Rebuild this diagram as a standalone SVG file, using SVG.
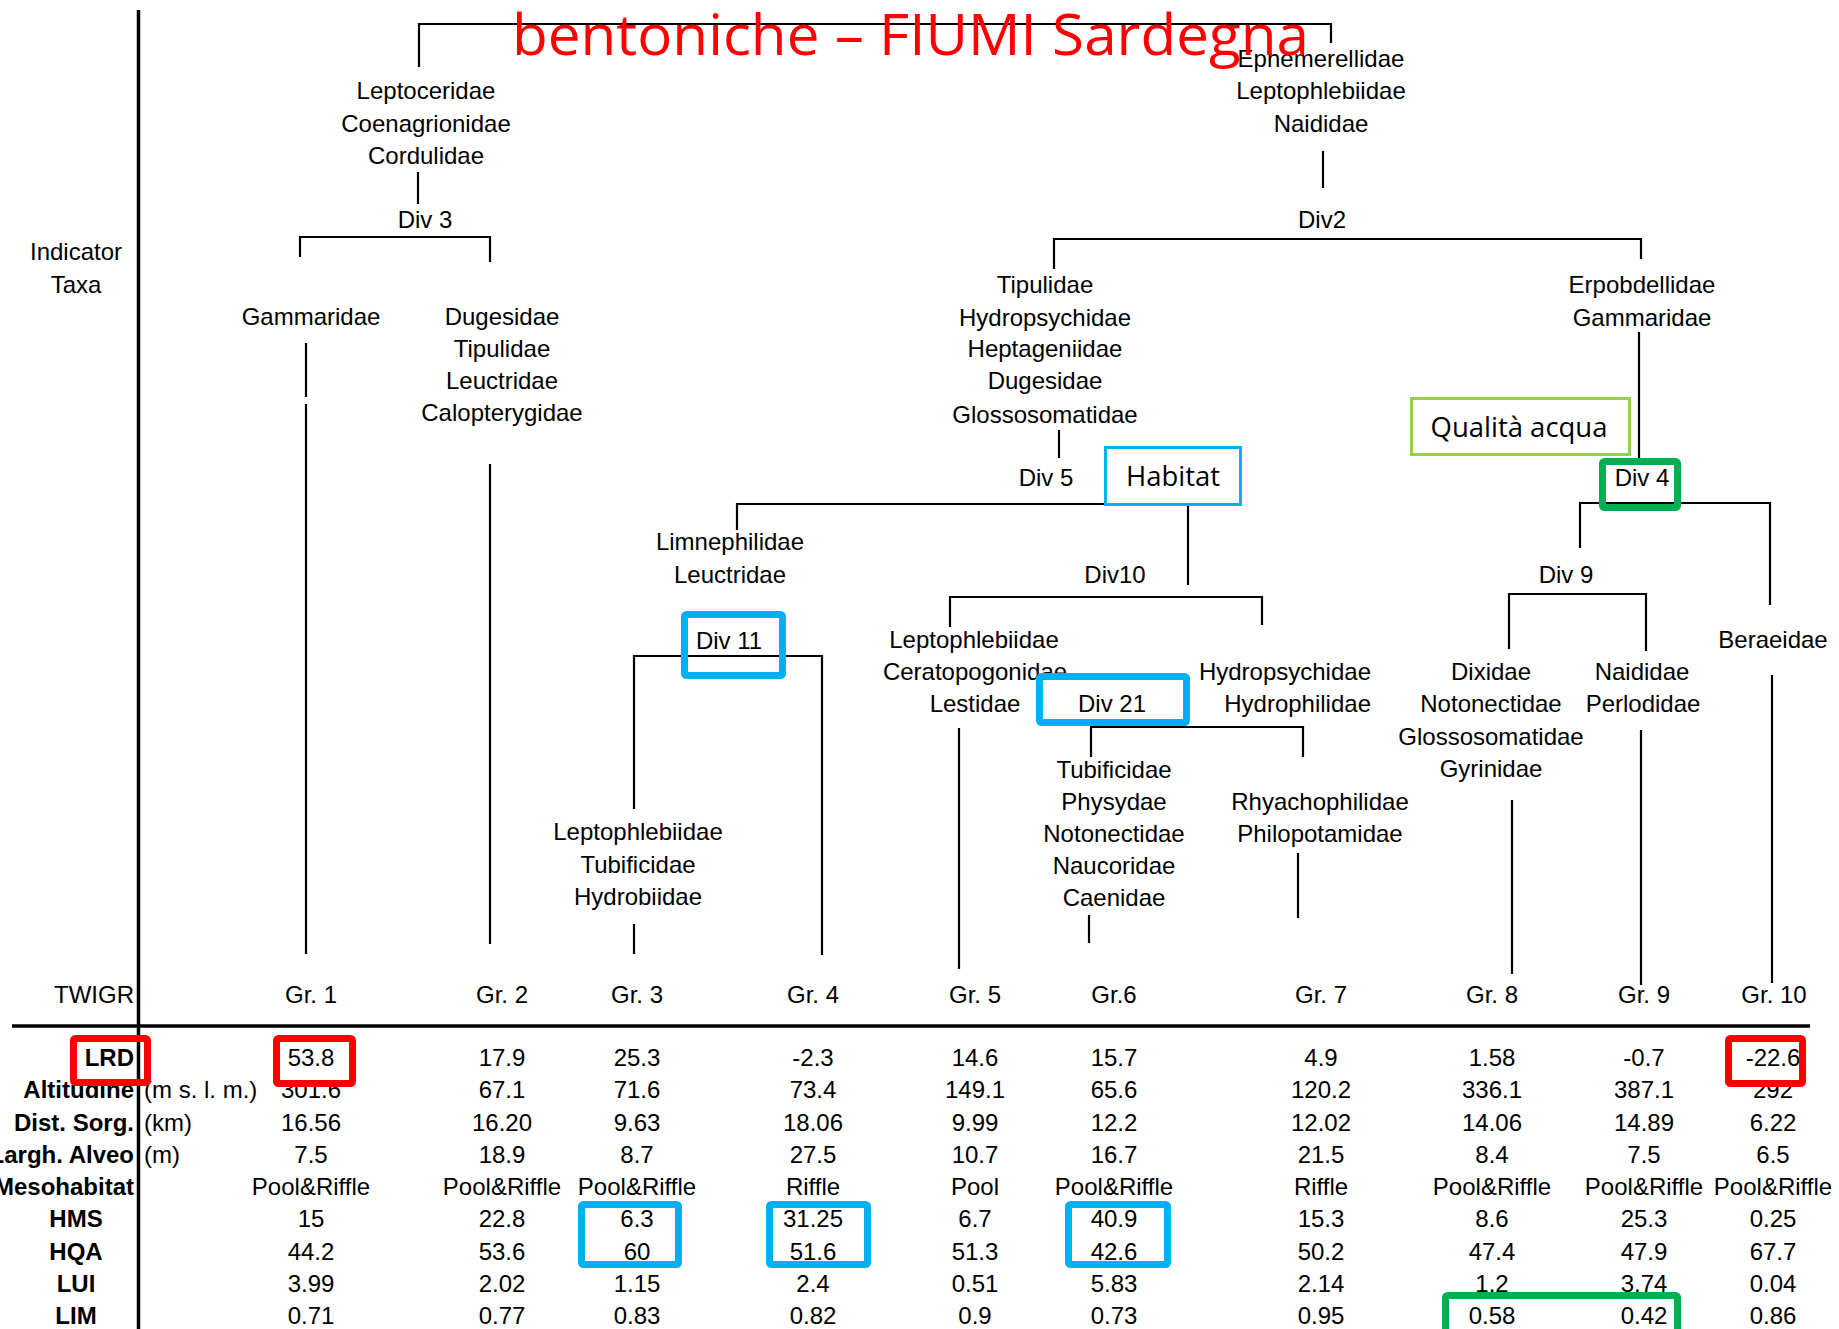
<svg xmlns="http://www.w3.org/2000/svg" width="1839" height="1329" viewBox="0 0 1839 1329">
<style>
text{font-family:"Liberation Sans",Arial,sans-serif;font-size:24px;fill:#000}
.c{text-anchor:middle}
.e{text-anchor:end}
.b{font-weight:bold}
.ln{fill:none;stroke:#000;stroke-width:2.2}
.ax{fill:none;stroke:#000;stroke-width:3.5}
text.cal{font-family:"Open Sans","Noto Sans",sans-serif;font-size:27px}
text.title{font-family:"Open Sans","Noto Sans",sans-serif;font-size:57px;fill:#FF0000}
.blue{fill:none;stroke:#00B0F0;stroke-width:7}
.blueThin{fill:none;stroke:#00B0F0;stroke-width:3}
.red{fill:none;stroke:#FF0000;stroke-width:7}
.green{fill:none;stroke:#00B050;stroke-width:7}
.lgreen{fill:none;stroke:#92D050;stroke-width:3}
</style>
<rect width="1839" height="1329" fill="#fff"/>

<g id="connectors">
<path class="ax" d="M138.5,10 V1329"/>
<path class="ax" d="M12,1026 H1810"/>
<path class="ln" d="M419,67 V24 H1331 V43"/>
<path class="ln" d="M418,172 V204"/>
<path class="ln" d="M300,257 V237 H490 V262"/>
<path class="ln" d="M306,343 V397 M306,404 V954"/>
<path class="ln" d="M490,464 V944"/>
<path class="ln" d="M1323,151 V188"/>
<path class="ln" d="M1054,269 V239 H1641 V259"/>
<path class="ln" d="M1059,430 V458"/>
<path class="ln" d="M737,530 V504 H1105"/>
<path class="ln" d="M1188,506 V585"/>
<path class="ln" d="M634,809 V656 H822 V955"/>
<path class="ln" d="M634,924 V954"/>
<path class="ln" d="M950,627 V597 H1262 V625"/>
<path class="ln" d="M959,728 V969"/>
<path class="ln" d="M1091,757 V727 H1303 V757"/>
<path class="ln" d="M1089,915 V943"/>
<path class="ln" d="M1298,853 V918"/>
<path class="ln" d="M1639,332 V458"/>
<path class="ln" d="M1580,548 V503 H1770 V605"/>
<path class="ln" d="M1509,649 V594 H1646 V651"/>
<path class="ln" d="M1512,800 V974"/>
<path class="ln" d="M1641,730 V985"/>
<path class="ln" d="M1772,675 V983"/>
</g>

<g id="axis-labels">
<text class="c" x="76" y="260">Indicator</text>
<text class="c" x="76" y="293">Taxa</text>
<text class="e" x="134" y="1003">TWIGR</text>
</g>

<g id="node-div1">
<text class="c" x="426" y="99">Leptoceridae</text>
<text class="c" x="426" y="132">Coenagrionidae</text>
<text class="c" x="426" y="164">Cordulidae</text>
</g>
<g id="node-div1r">
<text class="c" x="1321" y="67">Ephemerellidae</text>
<text class="c" x="1321" y="99">Leptophlebiidae</text>
<text class="c" x="1321" y="132">Naididae</text>
</g>
<g id="node-div3"><text class="c" x="425" y="228">Div 3</text></g>
<g id="node-div2"><text class="c" x="1322" y="228">Div2</text></g>
<g id="node-gam"><text class="c" x="311" y="325">Gammaridae</text></g>
<g id="node-dug">
<text class="c" x="502" y="325">Dugesidae</text>
<text class="c" x="502" y="357">Tipulidae</text>
<text class="c" x="502" y="389">Leuctridae</text>
<text class="c" x="502" y="421">Calopterygidae</text>
</g>
<g id="node-tip">
<text class="c" x="1045" y="293">Tipulidae</text>
<text class="c" x="1045" y="326">Hydropsychidae</text>
<text class="c" x="1045" y="357">Heptageniidae</text>
<text class="c" x="1045" y="389">Dugesidae</text>
<text class="c" x="1045" y="423">Glossosomatidae</text>
</g>
<g id="node-erp">
<text class="c" x="1642" y="293">Erpobdellidae</text>
<text class="c" x="1642" y="326">Gammaridae</text>
</g>
<g id="node-div5"><text class="c" x="1046" y="486">Div 5</text></g>
<g id="node-habitat">
<rect class="blueThin" x="1105.5" y="447.5" width="135" height="57"/>
<text class="c cal" x="1173" y="486" textLength="94" lengthAdjust="spacingAndGlyphs">Habitat</text>
</g>
<g id="node-qualita">
<rect class="lgreen" x="1411.5" y="398.5" width="218" height="56"/>
<text class="c cal" x="1519" y="437" textLength="177" lengthAdjust="spacingAndGlyphs">Qualità acqua</text>
</g>
<g id="node-div4">
<text class="c" x="1642" y="486">Div 4</text>
<rect class="green" x="1602.5" y="461.5" width="75" height="46" rx="2"/>
</g>
<g id="node-limn">
<text class="c" x="730" y="550">Limnephilidae</text>
<text class="c" x="730" y="583">Leuctridae</text>
</g>
<g id="node-div10"><text class="c" x="1115" y="583">Div10</text></g>
<g id="node-div9"><text class="c" x="1566" y="583">Div 9</text></g>
<g id="node-div11">
<text class="c" x="729" y="649">Div 11</text>
<rect class="blue" x="684.5" y="614.5" width="98" height="61" rx="2"/>
</g>
<g id="node-gr5taxa">
<text class="c" x="974" y="648">Leptophlebiidae</text>
<text class="c" x="975" y="680">Ceratopogonidae</text>
<text class="c" x="975" y="712">Lestidae</text>
</g>
<g id="node-div21">
<text class="c" x="1112" y="712">Div 21</text>
<rect class="blue" x="1039.5" y="676.5" width="147" height="46" rx="2"/>
</g>
<g id="node-hydro">
<text class="e" x="1371" y="680">Hydropsychidae</text>
<text class="e" x="1371" y="712">Hydrophilidae</text>
</g>
<g id="node-bera"><text class="c" x="1773" y="648">Beraeidae</text></g>
<g id="node-dix">
<text class="c" x="1491" y="680">Dixidae</text>
<text class="c" x="1491" y="712">Notonectidae</text>
<text class="c" x="1491" y="745">Glossosomatidae</text>
<text class="c" x="1491" y="777">Gyrinidae</text>
</g>
<g id="node-naid">
<text class="c" x="1642" y="680">Naididae</text>
<text class="c" x="1643" y="712">Perlodidae</text>
</g>
<g id="node-gr6taxa">
<text class="c" x="1114" y="778">Tubificidae</text>
<text class="c" x="1114" y="810">Physydae</text>
<text class="c" x="1114" y="842">Notonectidae</text>
<text class="c" x="1114" y="874">Naucoridae</text>
<text class="c" x="1114" y="906">Caenidae</text>
</g>
<g id="node-rhya">
<text class="c" x="1320" y="810">Rhyachophilidae</text>
<text class="c" x="1320" y="842">Philopotamidae</text>
</g>
<g id="node-gr3taxa">
<text class="c" x="638" y="840">Leptophlebiidae</text>
<text class="c" x="638" y="873">Tubificidae</text>
<text class="c" x="638" y="905">Hydrobiidae</text>
</g>

<g id="groups">
<text class="c" x="311" y="1003">Gr. 1</text>
<text class="c" x="502" y="1003">Gr. 2</text>
<text class="c" x="637" y="1003">Gr. 3</text>
<text class="c" x="813" y="1003">Gr. 4</text>
<text class="c" x="975" y="1003">Gr. 5</text>
<text class="c" x="1114" y="1003">Gr.6</text>
<text class="c" x="1321" y="1003">Gr. 7</text>
<text class="c" x="1492" y="1003">Gr. 8</text>
<text class="c" x="1644" y="1003">Gr. 9</text>
<text class="c" x="1774" y="1003">Gr. 10</text>
</g>

<g id="row-labels">
<text class="e b" x="134" y="1066">LRD</text>
<text class="e b" x="134" y="1098">Altitudine</text>
<text class="e b" x="134" y="1131">Dist. Sorg.</text>
<text class="e b" x="134" y="1163">Largh. Alveo</text>
<text class="e b" x="134" y="1195">Mesohabitat</text>
<text class="c b" x="76" y="1227">HMS</text>
<text class="c b" x="76" y="1260">HQA</text>
<text class="c b" x="76" y="1292">LUI</text>
<text class="c b" x="76" y="1324">LIM</text>
<text x="144" y="1098">(m s. l. m.)</text>
<text x="144" y="1131">(km)</text>
<text x="144" y="1163">(m)</text>
</g>

<g id="table-values">
<g id="row-lrd">
<text class="c" x="311" y="1066">53.8</text><text class="c" x="502" y="1066">17.9</text><text class="c" x="637" y="1066">25.3</text><text class="c" x="813" y="1066">-2.3</text><text class="c" x="975" y="1066">14.6</text><text class="c" x="1114" y="1066">15.7</text><text class="c" x="1321" y="1066">4.9</text><text class="c" x="1492" y="1066">1.58</text><text class="c" x="1644" y="1066">-0.7</text><text class="c" x="1773" y="1066">-22.6</text>
</g>
<g id="row-alt">
<text class="c" x="311" y="1098">301.6</text><text class="c" x="502" y="1098">67.1</text><text class="c" x="637" y="1098">71.6</text><text class="c" x="813" y="1098">73.4</text><text class="c" x="975" y="1098">149.1</text><text class="c" x="1114" y="1098">65.6</text><text class="c" x="1321" y="1098">120.2</text><text class="c" x="1492" y="1098">336.1</text><text class="c" x="1644" y="1098">387.1</text><text class="c" x="1773" y="1098">292</text>
</g>
<g id="row-dist">
<text class="c" x="311" y="1131">16.56</text><text class="c" x="502" y="1131">16.20</text><text class="c" x="637" y="1131">9.63</text><text class="c" x="813" y="1131">18.06</text><text class="c" x="975" y="1131">9.99</text><text class="c" x="1114" y="1131">12.2</text><text class="c" x="1321" y="1131">12.02</text><text class="c" x="1492" y="1131">14.06</text><text class="c" x="1644" y="1131">14.89</text><text class="c" x="1773" y="1131">6.22</text>
</g>
<g id="row-largh">
<text class="c" x="311" y="1163">7.5</text><text class="c" x="502" y="1163">18.9</text><text class="c" x="637" y="1163">8.7</text><text class="c" x="813" y="1163">27.5</text><text class="c" x="975" y="1163">10.7</text><text class="c" x="1114" y="1163">16.7</text><text class="c" x="1321" y="1163">21.5</text><text class="c" x="1492" y="1163">8.4</text><text class="c" x="1644" y="1163">7.5</text><text class="c" x="1773" y="1163">6.5</text>
</g>
<g id="row-meso">
<text class="c" x="311" y="1195">Pool&amp;Riffle</text><text class="c" x="502" y="1195">Pool&amp;Riffle</text><text class="c" x="637" y="1195">Pool&amp;Riffle</text><text class="c" x="813" y="1195">Riffle</text><text class="c" x="975" y="1195">Pool</text><text class="c" x="1114" y="1195">Pool&amp;Riffle</text><text class="c" x="1321" y="1195">Riffle</text><text class="c" x="1492" y="1195">Pool&amp;Riffle</text><text class="c" x="1644" y="1195">Pool&amp;Riffle</text><text class="c" x="1773" y="1195">Pool&amp;Riffle</text>
</g>
<g id="row-hms">
<text class="c" x="311" y="1227">15</text><text class="c" x="502" y="1227">22.8</text><text class="c" x="637" y="1227">6.3</text><text class="c" x="813" y="1227">31.25</text><text class="c" x="975" y="1227">6.7</text><text class="c" x="1114" y="1227">40.9</text><text class="c" x="1321" y="1227">15.3</text><text class="c" x="1492" y="1227">8.6</text><text class="c" x="1644" y="1227">25.3</text><text class="c" x="1773" y="1227">0.25</text>
</g>
<g id="row-hqa">
<text class="c" x="311" y="1260">44.2</text><text class="c" x="502" y="1260">53.6</text><text class="c" x="637" y="1260">60</text><text class="c" x="813" y="1260">51.6</text><text class="c" x="975" y="1260">51.3</text><text class="c" x="1114" y="1260">42.6</text><text class="c" x="1321" y="1260">50.2</text><text class="c" x="1492" y="1260">47.4</text><text class="c" x="1644" y="1260">47.9</text><text class="c" x="1773" y="1260">67.7</text>
</g>
<g id="row-lui">
<text class="c" x="311" y="1292">3.99</text><text class="c" x="502" y="1292">2.02</text><text class="c" x="637" y="1292">1.15</text><text class="c" x="813" y="1292">2.4</text><text class="c" x="975" y="1292">0.51</text><text class="c" x="1114" y="1292">5.83</text><text class="c" x="1321" y="1292">2.14</text><text class="c" x="1492" y="1292">1.2</text><text class="c" x="1644" y="1292">3.74</text><text class="c" x="1773" y="1292">0.04</text>
</g>
<g id="row-lim">
<text class="c" x="311" y="1324">0.71</text><text class="c" x="502" y="1324">0.77</text><text class="c" x="637" y="1324">0.83</text><text class="c" x="813" y="1324">0.82</text><text class="c" x="975" y="1324">0.9</text><text class="c" x="1114" y="1324">0.73</text><text class="c" x="1321" y="1324">0.95</text><text class="c" x="1492" y="1324">0.58</text><text class="c" x="1644" y="1324">0.42</text><text class="c" x="1773" y="1324">0.86</text>
</g>
</g>

<g id="highlights">
<rect class="red" x="73.5" y="1038.5" width="74" height="44" rx="2"/>
<rect class="red" x="276.5" y="1038.5" width="76" height="45" rx="2"/>
<rect class="red" x="1728.5" y="1038.5" width="74" height="45" rx="2"/>
<rect class="blue" x="581.5" y="1204.5" width="97" height="60" rx="2"/>
<rect class="blue" x="769.5" y="1204.5" width="98" height="60" rx="2"/>
<rect class="blue" x="1068.5" y="1204.5" width="99" height="60" rx="2"/>
<rect class="green" x="1445.5" y="1295.5" width="232" height="60" rx="2"/>
</g>

<g id="title">
<text class="title" x="512" y="55" textLength="797" lengthAdjust="spacingAndGlyphs">bentoniche – FIUMI Sardegna</text>
</g>
</svg>
